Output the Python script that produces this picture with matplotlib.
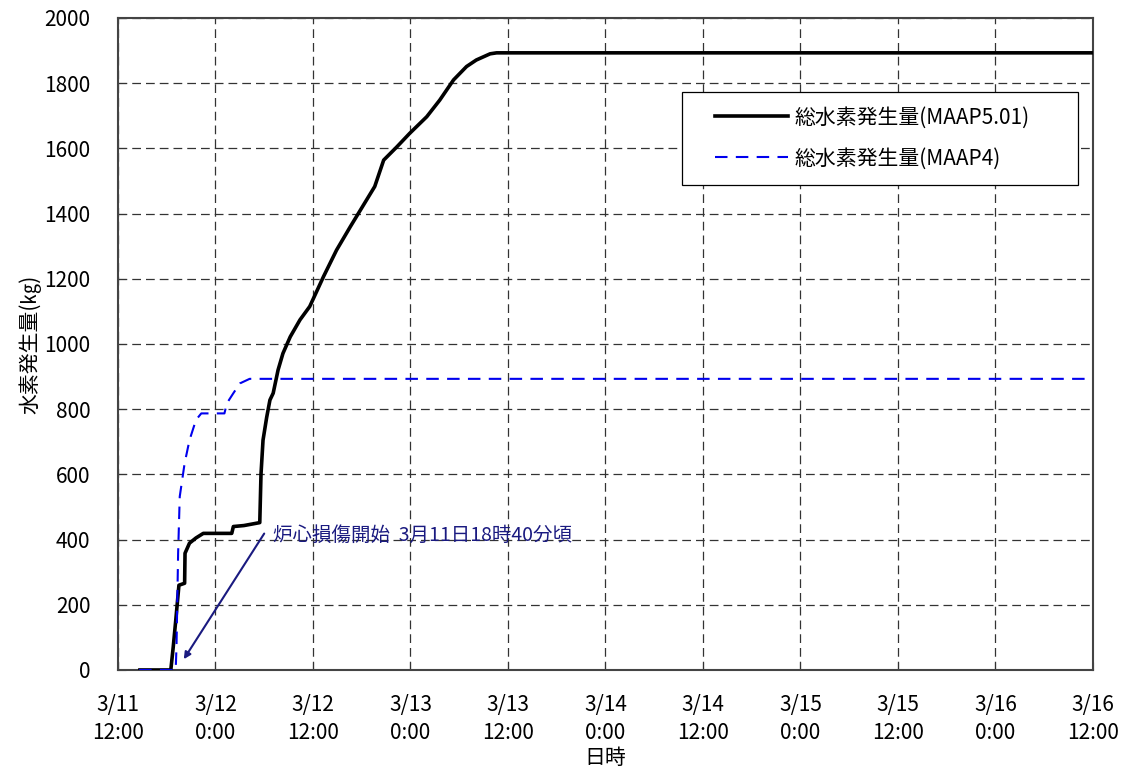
import matplotlib
matplotlib.use('Agg')
import matplotlib.pyplot as plt
from matplotlib.patches import Rectangle

plt.rcParams['font.family'] = ['Noto Sans CJK JP', 'DejaVu Sans']

# Data: hours since 3/11 12:00, hydrogen generated (kg)
maap5_hours = [2.7, 6.5, 6.8, 7.1, 7.5, 8.2, 8.25, 8.8, 9.6, 10.5, 14.0, 14.2, 15.5, 17.45,
               17.6, 17.85, 18.3, 18.7, 19.1, 19.7, 20.3, 21.2, 22.4, 23.6, 25.3, 26.9,
               28.6, 30.6, 31.6, 32.7, 34.3, 35.9, 38.0, 39.6, 41.3, 42.9, 44.1, 45.8,
               46.6, 120.0]
maap5_kg = [0, 0, 71, 150, 260, 266, 358, 389, 405, 419, 419, 440, 443, 452,
            600, 705, 775, 828, 849, 920, 971, 1022, 1074, 1115, 1207, 1288,
            1360, 1442, 1483, 1564, 1604, 1646, 1697, 1748, 1810, 1851, 1871, 1890,
            1893, 1893]

maap4_hours = [2.6, 7.1, 7.2, 7.4, 7.6, 8.2, 8.8, 9.6, 10.25, 13.1, 13.4, 14.2, 15.0, 16.2, 120.0]
maap4_kg = [0, 0, 71, 358, 532, 634, 705, 767, 787, 787, 818, 849, 879, 893, 893]

tick_hours = list(range(0, 121, 12))
tick_labels = ['3/11\n12:00', '3/12\n0:00', '3/12\n12:00', '3/13\n0:00', '3/13\n12:00',
               '3/14\n0:00', '3/14\n12:00', '3/15\n0:00', '3/15\n12:00', '3/16\n0:00',
               '3/16\n12:00']
y_ticks = list(range(0, 2001, 200))

fig = plt.figure(figsize=(11.27, 7.74), dpi=100)
ax = fig.add_axes([0.1047, 0.1344, 0.8651, 0.8424])

ax.plot(maap5_hours, maap5_kg, color='black', lw=2.6, label='総水素発生量(MAAP5.01)', zorder=3)
ax.plot(maap4_hours, maap4_kg, color='#0000ee', lw=1.5, ls=(0, (6, 4)),
        label='総水素発生量(MAAP4)', zorder=3)

ax.set_xlim(0, 120)
ax.set_ylim(0, 2000)
ax.set_xticks(tick_hours)
ax.set_xticklabels(tick_labels, linespacing=1.4)
ax.set_yticks(y_ticks)
ax.tick_params(direction='in', labelsize=15, length=6, color='#333333')
ax.tick_params(axis='x', pad=17)
ax.tick_params(axis='y', pad=20)
ax.grid(True, color='#333333', ls=(0, (7, 4)), lw=0.9)
for s in ax.spines.values():
    s.set_color('#444444')
    s.set_linewidth(1.5)

ax.set_xlabel('日時', fontsize=15, labelpad=2)
ax.set_ylabel('水素発生量(㎏)', fontsize=15, labelpad=2)

# Annotation for core damage start
ax.annotate('炉心損傷開始  3月11日18時40分頃', xy=(8.1, 33), xytext=(19.1, 412),
            fontsize=14, color='#1a1a80', va='center', ha='left',
            arrowprops=dict(arrowstyle='-|>', color='#1a1a80', lw=1.5,
                            shrinkA=0, shrinkB=0, mutation_scale=10,
                            relpos=(-0.03, 0.6)))

# legend box drawn separately (wide side padding like the original)
ax.add_patch(Rectangle((0.5785, 0.744), 0.406, 0.1425, transform=ax.transAxes,
                       facecolor='white', edgecolor='black', lw=0.9, zorder=4))
leg = ax.legend(loc='center left', bbox_to_anchor=(0.612, 0.816), fontsize=15,
                frameon=False, handlelength=3.5, borderpad=0, labelspacing=0.9,
                handletextpad=0.35, borderaxespad=0)
leg.set_zorder(5)

fig.savefig('out.png', dpi=100)
